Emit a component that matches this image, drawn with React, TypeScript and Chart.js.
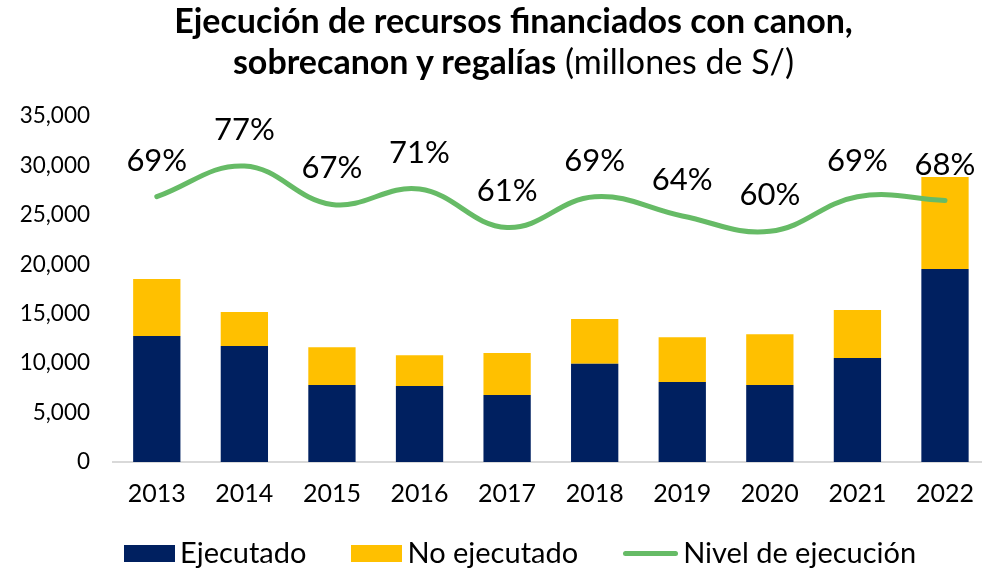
import React, { useEffect, useRef } from "react";
import { Chart, registerables } from "chart.js";

Chart.register(...registerables);

const years = ["2013", "2014", "2015", "2016", "2017", "2018", "2019", "2020", "2021", "2022"];
const ejecutado = [12750, 11730, 7790, 7690, 6780, 9950, 8090, 7790, 10520, 19520];
const noEjecutado = [5760, 3440, 3810, 3100, 4250, 4520, 4520, 5130, 4860, 9310];
const nivelEjecucion = [69, 77, 67, 71, 61, 69, 64, 60, 69, 68];

const NAVY = "#002060";
const GOLD = "#FFC000";
const GREEN = "#66BB66";
const FONT = "Lato";

const pctLabels = {
  id: "pctLabels",
  afterDatasetsDraw(chart: any) {
    const meta = chart.getDatasetMeta(2);
    const ctx = chart.ctx;
    ctx.save();
    ctx.font = `31px ${FONT}`;
    ctx.fillStyle = "#000";
    ctx.textAlign = "center";
    ctx.textBaseline = "middle";
    meta.data.forEach((pt: any, i: number) => {
      ctx.fillText(`${nivelEjecucion[i]}%`, pt.x, pt.y - 36);
    });
    ctx.restore();
  },
};

export default function App() {
  const ref = useRef<HTMLCanvasElement>(null);

  useEffect(() => {
    if (!ref.current) return;
    const chart = new Chart(ref.current, {
      type: "bar",
      data: {
        labels: years,
        datasets: [
          {
            type: "bar",
            label: "Ejecutado",
            data: ejecutado,
            backgroundColor: NAVY,
            stack: "s",
            yAxisID: "y",
            order: 2,
            barPercentage: 0.54,
            categoryPercentage: 1,
          },
          {
            type: "bar",
            label: "No ejecutado",
            data: noEjecutado,
            backgroundColor: GOLD,
            stack: "s",
            yAxisID: "y",
            order: 2,
            barPercentage: 0.54,
            categoryPercentage: 1,
          },
          {
            type: "line",
            label: "Nivel de ejecución",
            data: nivelEjecucion,
            borderColor: GREEN,
            backgroundColor: GREEN,
            borderWidth: 5,
            borderCapStyle: "round",
            tension: 0.4,
            pointRadius: 0,
            yAxisID: "y1",
            order: 0,
          },
        ],
      },
      options: {
        animation: false,
        responsive: false,
        maintainAspectRatio: false,
        layout: { padding: { top: 116, left: 0, right: 0, bottom: 0 } },
        plugins: {
          legend: { display: false },
          title: { display: false },
          tooltip: { enabled: false },
        },
        scales: {
          x: {
            stacked: true,
            grid: { display: false, drawTicks: false },
            border: { display: true, color: "#d9d9d9", width: 2 },
            ticks: { color: "#000", font: { family: FONT, size: 25 }, padding: 17 },
            afterFit: (s: any) => {
              s.height = 108;
            },
          },
          y: {
            stacked: true,
            min: 0,
            max: 35000,
            grid: { display: false, drawTicks: false },
            border: { display: false },
            ticks: {
              stepSize: 5000,
              color: "#000",
              font: { family: FONT, size: 22.5 },
              padding: 23,
              callback: (v: any) => Number(v).toLocaleString("en-US"),
            },
            afterFit: (s: any) => {
              s.width = 113;
            },
          },
          y1: {
            display: false,
            min: 0,
            max: 90,
            stacked: false,
          },
        },
      },
      plugins: [pctLabels],
    });
    return () => chart.destroy();
  }, []);

  const legendItem = (swatch: React.ReactNode, text: string, mr: number) => (
    <div style={{ display: "flex", alignItems: "flex-start", marginRight: mr }}>
      {swatch}
      <span style={{ marginLeft: 5 }}>{text}</span>
    </div>
  );

  return (
    <div
      style={{
        position: "fixed",
        left: 0,
        top: 0,
        width: 982,
        height: 570,
        overflow: "hidden",
        background: "#fff",
      }}
    >
      <canvas ref={ref} width={991} height={570} style={{ position: "absolute", left: 0, top: 0 }} />
      <div
        style={{
          position: "absolute",
          left: 45,
          top: -1,
          width: 937,
          textAlign: "center",
          fontFamily: FONT,
          fontSize: 34,
          lineHeight: "41px",
          color: "#000",
          whiteSpace: "nowrap",
        }}
      >
        <div style={{ fontWeight: 700 }}>Ejecución de recursos financiados con canon,</div>
        <div>
          <span style={{ fontWeight: 700 }}>sobrecanon y regalías</span>
          <span style={{ fontWeight: 400 }}> (millones de S/)</span>
        </div>
      </div>
      <div
        style={{
          position: "absolute",
          left: 124,
          top: 537,
          display: "flex",
          fontFamily: FONT,
          fontSize: 29,
          lineHeight: "30px",
          color: "#000",
          whiteSpace: "nowrap",
        }}
      >
        {legendItem(
          <div style={{ width: 51, height: 17, marginTop: 8, background: NAVY }} />,
          "Ejecutado",
          45
        )}
        {legendItem(
          <div style={{ width: 51, height: 17, marginTop: 8, background: GOLD }} />,
          "No ejecutado",
          45
        )}
        {legendItem(
          <div style={{ width: 55, height: 5, marginTop: 14, borderRadius: 3, background: GREEN }} />,
          "Nivel de ejecución",
          0
        )}
      </div>
    </div>
  );
}
